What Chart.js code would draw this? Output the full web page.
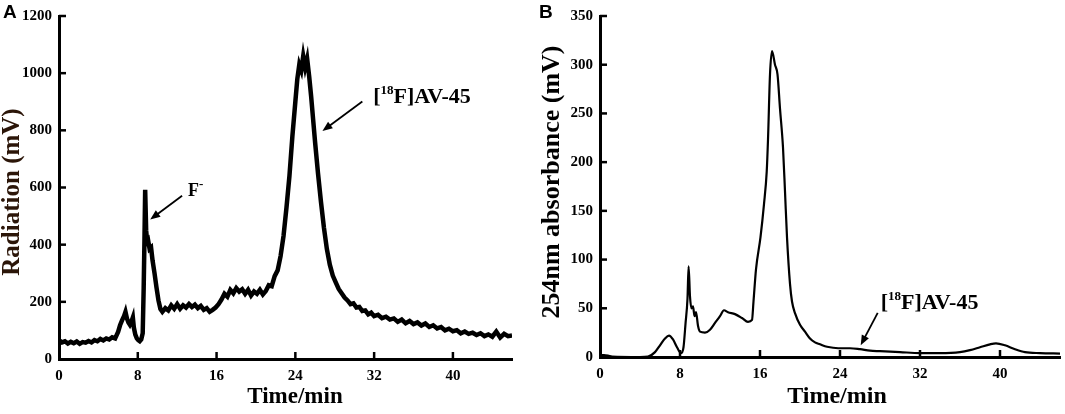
<!DOCTYPE html>
<html>
<head>
<meta charset="utf-8">
<script src="https://cdn.jsdelivr.net/npm/chart.js@4/dist/chart.umd.min.js"></script>
<style>
  body { margin: 0; background: #fff; }
  #wrap { position: relative; width: 1065px; height: 414px; }
  canvas { position: absolute; top: 0; }
  #chartA { left: 0; }
  #chartB { left: 538px; }
</style>
</head>
<body>
<div id="wrap">
  <canvas id="chartA" width="538" height="414"></canvas>
  <canvas id="chartB" width="527" height="414"></canvas>
</div>
<script>
// Panel A: radio trace (Time/min vs Radiation mV)
const timeA = [
  0, 0.3, 0.6, 0.9, 1.2, 1.5, 1.8, 2.1, 2.4, 2.7,
  3.0, 3.3, 3.6, 3.9, 4.2, 4.5, 4.8, 5.1, 5.4, 5.7,
  6.0, 6.2, 6.4, 6.6, 6.75, 6.9, 7.05, 7.2, 7.35, 7.5,
  7.6, 7.75, 7.9, 8.05, 8.2, 8.35, 8.5, 8.6, 8.68, 8.75,
  8.85, 8.95, 9.05, 9.2, 9.35, 9.5, 9.7, 9.9, 10.1, 10.3,
  10.5, 10.8, 11.1, 11.4, 11.7, 12.0, 12.3, 12.6, 12.9, 13.2,
  13.5, 13.8, 14.1, 14.4, 14.7, 15.0, 15.3, 15.6, 15.9, 16.2,
  16.5, 16.8, 17.1, 17.4, 17.7, 18.0, 18.3, 18.6, 18.9, 19.2,
  19.5, 19.8, 20.1, 20.4, 20.7, 21.0, 21.3, 21.6, 21.9, 22.2,
  22.5, 22.8, 23.1, 23.4, 23.7, 24.0, 24.2, 24.4, 24.6, 24.8,
  25.0, 25.2, 25.4, 25.6, 25.8, 26.0, 26.3, 26.6, 26.9, 27.2,
  27.5, 27.8, 28.1, 28.4, 28.7, 29.0, 29.3, 29.6, 29.9, 30.2,
  30.5, 30.8, 31.1, 31.4, 31.7, 32.0, 32.4, 32.8, 33.2, 33.6,
  34.0, 34.4, 34.8, 35.2, 35.6, 36.0, 36.4, 36.8, 37.2, 37.6,
  38.0, 38.4, 38.8, 39.2, 39.6, 40.0, 40.4, 40.8, 41.2, 41.6,
  42.0, 42.4, 42.8, 43.2, 43.6, 44.0, 44.4, 44.8, 45.2, 45.6,
  46.0
];
const radA = [
  66, 58, 62, 54, 60, 55, 61, 53, 59, 57,
  63, 58, 66, 62, 70, 65, 72, 68, 76, 72,
  95, 118, 135, 150, 165, 142, 128, 120, 130, 145,
  110, 85, 72, 66, 62, 68, 90, 250, 420, 592,
  450, 410, 415, 385, 390, 345, 300, 250, 205, 175,
  165, 178, 170, 188, 176, 192, 176, 188, 180, 192,
  182, 190, 178, 186, 172, 178, 165, 172, 180, 192,
  208, 228, 218, 242, 230, 248, 236, 244, 228, 242,
  222, 236, 228, 242, 226, 238, 258, 255, 290, 310,
  360, 430, 530, 640, 780, 900, 980, 1030, 1010, 1060,
  1020, 1050, 990, 920, 840, 760, 650, 550, 460, 385,
  330, 292, 268, 245, 230, 215, 205, 192, 195, 180,
  182, 168, 170, 156, 162, 150, 155, 143, 148, 138,
  142, 130, 138, 125, 133, 122, 128, 117, 124, 112,
  118, 107, 112, 100, 106, 97, 101, 90, 96, 88,
  92, 84, 90, 80, 86, 78, 96, 75, 88, 80,
  82
];

// Panel B: UV trace (254nm absorbance mV)
const timeB = [
  0, 0.4, 0.8, 1.2, 4.0, 4.8, 5.5, 6.0, 6.5, 6.9,
  7.3, 7.7, 8.1, 8.35, 8.55, 8.75, 8.86, 9.0, 9.15, 9.3,
  9.45, 9.6, 9.8, 10.0, 10.5, 11.0, 11.5, 12.0, 12.4, 12.8,
  13.5, 14.2, 14.8,
  15.2, 15.35, 15.6, 16.05, 16.4, 16.67, 16.8, 17.0, 17.2, 17.5,
  17.75, 18.0, 18.3, 18.5, 18.7, 19.0, 19.2, 19.5, 20.0, 20.5,
  21.0, 21.5, 22.0, 22.5, 23.0, 24.0, 25.0, 26.0, 27.0, 28.0,
  30.0, 32.0, 34.0, 36.0, 37.0, 38.0, 39.0, 39.6, 40.5, 41.5,
  42.5, 44.0, 46.0
];
const absB = [
  2, 2, 1.5, 0.5, 0, 0.5, 5, 12, 19, 22,
  18, 10, 4, 10, 34, 60, 93, 62, 50, 52,
  42, 46, 32, 26, 25, 28, 35, 42, 48, 46,
  44, 40, 36,
  38, 57, 90, 123, 157, 190, 223, 290, 314, 300,
  290, 255, 215, 170, 123, 75, 57, 45, 33, 26,
  19, 15, 13, 11, 10, 9, 9, 8, 6.5, 6,
  5, 4, 4, 5, 7, 10, 13, 14, 12, 8,
  5, 4, 3.5
];

const timeTicks = [0, 8, 16, 24, 32, 40];
const radTicks = [0, 200, 400, 600, 800, 1000, 1200];
const absTicks = [0, 50, 100, 150, 200, 250, 300, 350];

const SERIF = '"Liberation Serif", "Times New Roman", serif';

// draws text pieces with superscripts, left to right from (x, y) baseline
function drawRich(ctx, parts, x, y) {
  let cx = x;
  parts.forEach(p => {
    ctx.font = 'bold ' + p.size + 'px ' + SERIF;
    ctx.fillText(p.s, cx, y - (p.rise || 0));
    cx += ctx.measureText(p.s).width;
  });
}

function drawArrow(ctx, x1, y1, x2, y2) {
  const ang = Math.atan2(y2 - y1, x2 - x1);
  const len = 10, half = 4;
  ctx.beginPath();
  ctx.moveTo(x1, y1);
  ctx.lineTo(x2 - Math.cos(ang) * len * 0.8, y2 - Math.sin(ang) * len * 0.8);
  ctx.stroke();
  ctx.beginPath();
  ctx.moveTo(x2, y2);
  ctx.lineTo(x2 - Math.cos(ang) * len + Math.sin(ang) * half, y2 - Math.sin(ang) * len - Math.cos(ang) * half);
  ctx.lineTo(x2 - Math.cos(ang) * len - Math.sin(ang) * half, y2 - Math.sin(ang) * len + Math.cos(ang) * half);
  ctx.closePath();
  ctx.fill();
}

const decorations = {
  id: 'decorations',
  afterDraw(chart, args, opts) {
    const { ctx, chartArea, scales: { x, y } } = chart;
    ctx.save();
    ctx.strokeStyle = '#000';
    ctx.fillStyle = '#000';

    // inward tick marks
    ctx.lineWidth = 2.5;
    x.ticks.forEach(t => {
      if (t.value === 0) return;
      const px = x.getPixelForValue(t.value);
      ctx.beginPath();
      ctx.moveTo(px, chartArea.bottom);
      ctx.lineTo(px, chartArea.bottom - 7);
      ctx.stroke();
    });
    y.ticks.forEach(t => {
      if (t.value === 0) return;
      const py = y.getPixelForValue(t.value);
      ctx.beginPath();
      ctx.moveTo(chartArea.left, py);
      ctx.lineTo(chartArea.left + 7, py);
      ctx.stroke();
    });

    // panel letter
    ctx.font = 'bold 19px "Liberation Sans", Arial, sans-serif';
    ctx.textBaseline = 'alphabetic';
    ctx.textAlign = 'left';
    ctx.fillText(opts.letter, opts.letterX, 18);

    // axis titles
    ctx.textAlign = 'center';
    ctx.textBaseline = 'middle';
    ctx.font = 'bold ' + opts.xTitleSize + 'px ' + SERIF;
    ctx.fillText('Time/min', opts.xTitleX, 397);
    ctx.save();
    ctx.translate(opts.yTitleX, opts.yTitleY);
    ctx.rotate(-Math.PI / 2);
    ctx.fillStyle = opts.yTitleColor;
    ctx.font = 'bold ' + opts.yTitleSize + 'px ' + SERIF;
    ctx.fillText(opts.yTitle, 0, 0);
    ctx.restore();

    // annotations
    ctx.textAlign = 'left';
    ctx.textBaseline = 'alphabetic';
    opts.notes.forEach(n => {
      drawRich(ctx, n.parts, x.getPixelForValue(n.at[0]), y.getPixelForValue(n.at[1]));
    });
    ctx.lineWidth = 1.8;
    opts.arrows.forEach(a => {
      drawArrow(ctx,
        x.getPixelForValue(a.from[0]), y.getPixelForValue(a.from[1]),
        x.getPixelForValue(a.to[0]), y.getPixelForValue(a.to[1]));
    });
    ctx.restore();
  }
};

function makeScales(yTicks, leftW, bottomH) {
  const tickFont = { family: SERIF, size: 15, weight: 'bold' };
  return {
    x: {
      type: 'linear', min: 0, max: 46,
      afterFit: s => { s.height = bottomH; },
      afterBuildTicks: s => { s.ticks = timeTicks.map(v => ({ value: v })); },
      ticks: { font: tickFont, color: '#000', padding: 8, maxRotation: 0, callback: v => String(v) },
      grid: { drawOnChartArea: false, drawTicks: false },
      border: { color: '#000', width: 3 }
    },
    y: {
      min: 0, max: yTicks[yTicks.length - 1],
      afterFit: s => { s.width = leftW; },
      afterBuildTicks: s => { s.ticks = yTicks.map(v => ({ value: v })); },
      ticks: { font: tickFont, color: '#000', padding: 7, callback: v => String(v) },
      grid: { drawOnChartArea: false, drawTicks: false },
      border: { color: '#000', width: 3 }
    }
  };
}

const avLabel = [{ s: '[', size: 22 }, { s: '18', size: 13, rise: 9 }, { s: 'F]AV-45', size: 22 }];

new Chart(document.getElementById('chartA'), {
  type: 'line',
  data: {
    datasets: [{
      data: timeA.map((t, i) => ({ x: t, y: radA[i] })),
      borderColor: '#000',
      borderWidth: 4.5,
      pointRadius: 0,
      tension: 0
    }]
  },
  options: {
    responsive: false,
    animation: false,
    layout: { padding: { left: 0, right: 26, top: 9, bottom: 0 } },
    scales: makeScales(radTicks, 59, 55),
    plugins: {
      legend: { display: false },
      tooltip: { enabled: false },
      decorations: {
        letter: 'A', letterX: 3,
        xTitleX: 295, xTitleSize: 23,
        yTitle: 'Radiation (mV)', yTitleX: 13, yTitleY: 192, yTitleSize: 25, yTitleColor: '#2b1508',
        notes: [
          { at: [13.1, 571], parts: [{ s: 'F', size: 18 }, { s: '-', size: 13, rise: 8 }] },
          { at: [31.9, 897], parts: avLabel }
        ],
        arrows: [
          { from: [12.5, 571], to: [9.26, 488] },
          { from: [30.8, 901], to: [26.75, 798] }
        ]
      }
    }
  },
  plugins: [decorations]
});

new Chart(document.getElementById('chartB'), {
  type: 'line',
  data: {
    datasets: [{
      data: timeB.map((t, i) => ({ x: t, y: absB[i] })),
      borderColor: '#000',
      borderWidth: 2.2,
      pointRadius: 0,
      cubicInterpolationMode: 'monotone'
    }]
  },
  options: {
    responsive: false,
    animation: false,
    layout: { padding: { left: 0, right: 5, top: 9, bottom: 0 } },
    scales: makeScales(absTicks, 62, 57),
    plugins: {
      legend: { display: false },
      tooltip: { enabled: false },
      decorations: {
        letter: 'B', letterX: 1,
        xTitleX: 299, xTitleSize: 24,
        yTitle: '254nm absorbance (mV)', yTitleX: 14, yTitleY: 182, yTitleSize: 26, yTitleColor: '#000',
        notes: [
          { at: [28.07, 49], parts: avLabel }
        ],
        arrows: [
          { from: [27.77, 45.3], to: [26.07, 12.1] }
        ]
      }
    }
  },
  plugins: [decorations]
});
</script>
</body>
</html>
